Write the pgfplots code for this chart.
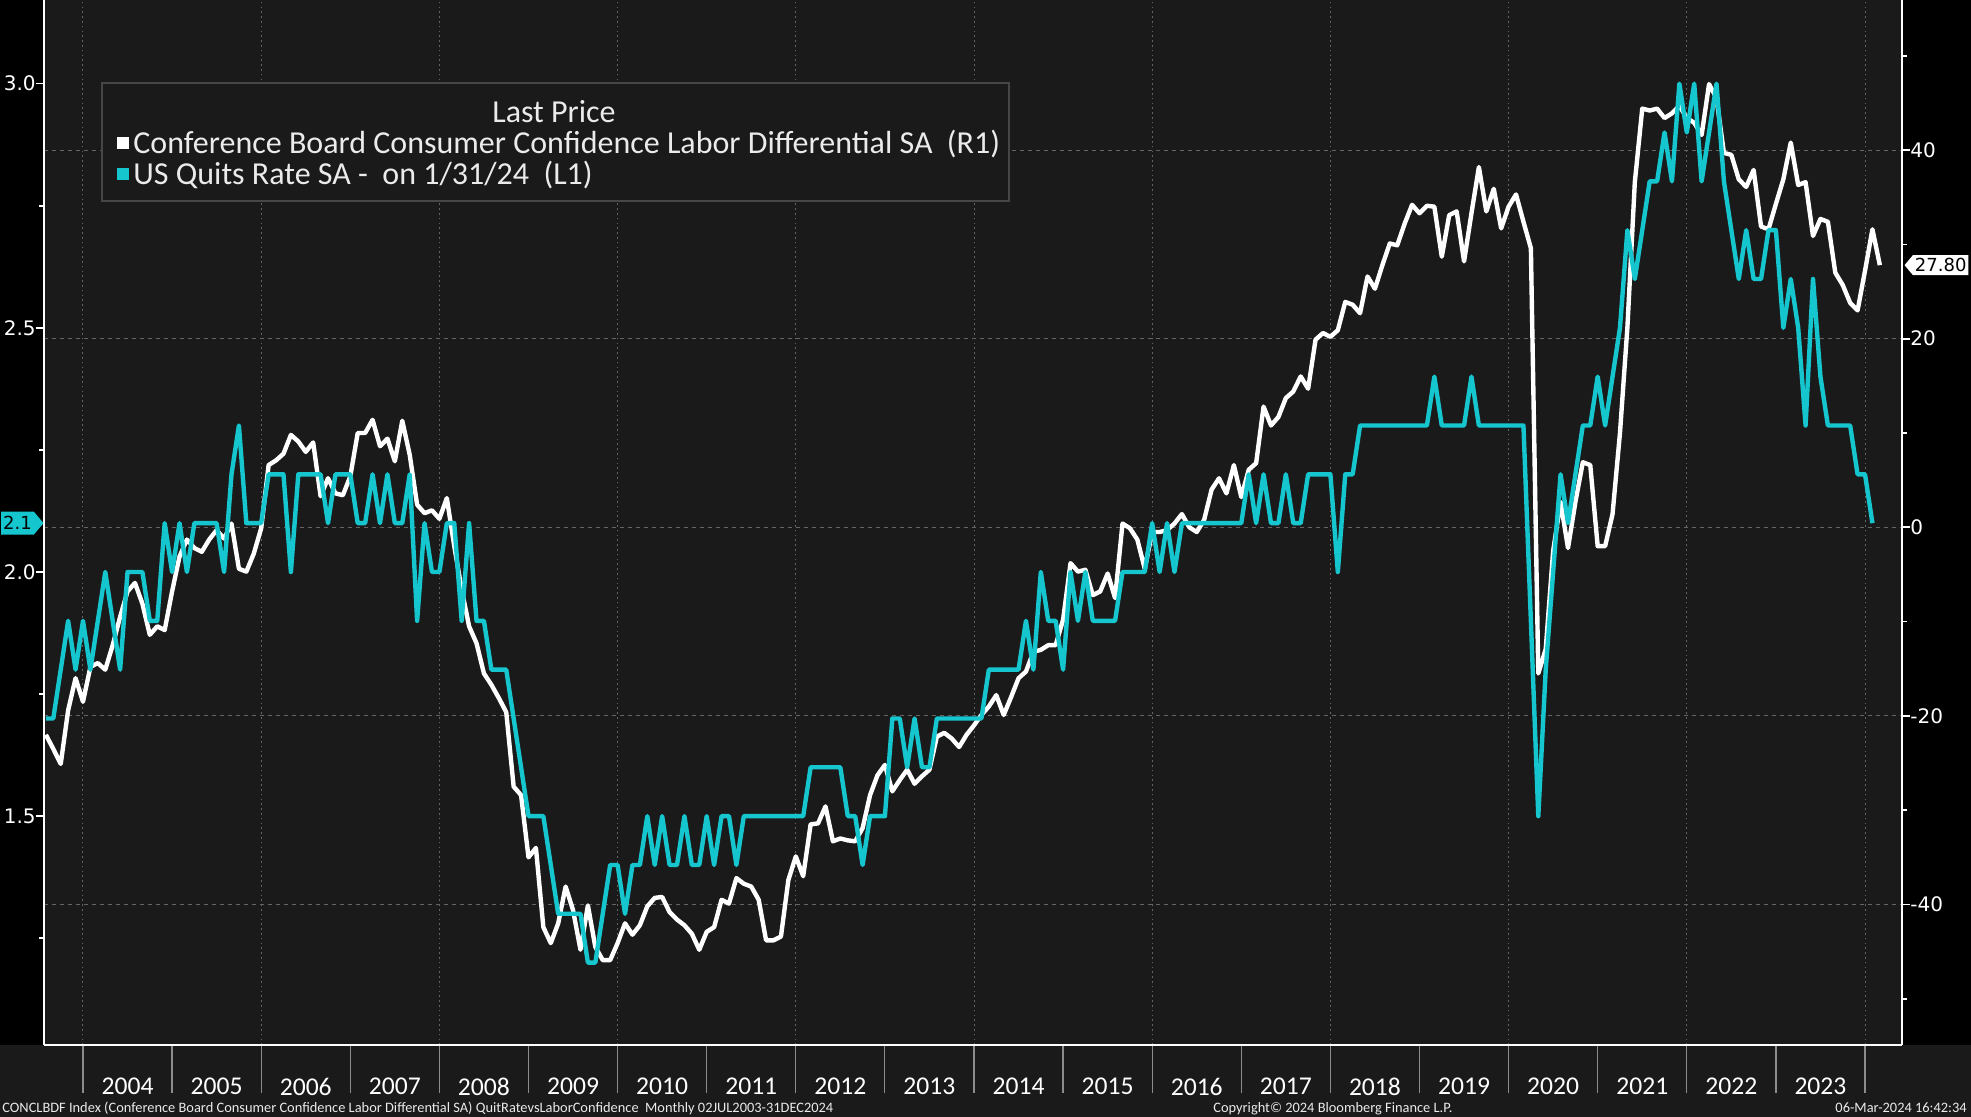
\documentclass[border=0pt]{standalone}
\usepackage{fontspec}
\setmainfont{Carlito}
\newfontfamily\dejavu{DejaVu Sans}
\usepackage{pgfplots}
\usepackage{pgfplotstable}
\pgfplotsset{compat=1.18}
\usetikzlibrary{shapes.symbols}

\definecolor{bggray}{RGB}{26,26,26}
\definecolor{qcyan}{RGB}{22,198,206}
\definecolor{gridgray}{RGB}{100,100,100}
\definecolor{sepgray}{RGB}{140,140,140}
\definecolor{legborder}{RGB}{70,70,70}
\definecolor{txtgray}{RGB}{235,235,235}

% US Quits Rate SA (L1), monthly, Jul 2003 - Jan 2024
\pgfplotstableread[row sep=\\]{v\\
1.7\\1.7\\1.8\\1.9\\1.8\\1.9\\
1.8\\1.9\\2.0\\1.9\\1.8\\2.0\\2.0\\2.0\\1.9\\1.9\\2.1\\2.0\\
2.1\\2.0\\2.1\\2.1\\2.1\\2.1\\2.0\\2.2\\2.3\\2.1\\2.1\\2.1\\
2.2\\2.2\\2.2\\2.0\\2.2\\2.2\\2.2\\2.2\\2.1\\2.2\\2.2\\2.2\\
2.1\\2.1\\2.2\\2.1\\2.2\\2.1\\2.1\\2.2\\1.9\\2.1\\2.0\\2.0\\
2.1\\2.1\\1.9\\2.1\\1.9\\1.9\\1.8\\1.8\\1.8\\1.7\\1.6\\1.5\\
1.5\\1.5\\1.4\\1.3\\1.3\\1.3\\1.3\\1.2\\1.2\\1.3\\1.4\\1.4\\
1.3\\1.4\\1.4\\1.5\\1.4\\1.5\\1.4\\1.4\\1.5\\1.4\\1.4\\1.5\\
1.4\\1.5\\1.5\\1.4\\1.5\\1.5\\1.5\\1.5\\1.5\\1.5\\1.5\\1.5\\
1.5\\1.6\\1.6\\1.6\\1.6\\1.6\\1.5\\1.5\\1.4\\1.5\\1.5\\1.5\\
1.7\\1.7\\1.6\\1.7\\1.6\\1.6\\1.7\\1.7\\1.7\\1.7\\1.7\\1.7\\
1.7\\1.8\\1.8\\1.8\\1.8\\1.8\\1.9\\1.8\\2.0\\1.9\\1.9\\1.8\\
2.0\\1.9\\2.0\\1.9\\1.9\\1.9\\1.9\\2.0\\2.0\\2.0\\2.0\\2.1\\
2.0\\2.1\\2.0\\2.1\\2.1\\2.1\\2.1\\2.1\\2.1\\2.1\\2.1\\2.1\\
2.2\\2.1\\2.2\\2.1\\2.1\\2.2\\2.1\\2.1\\2.2\\2.2\\2.2\\2.2\\
2.0\\2.2\\2.2\\2.3\\2.3\\2.3\\2.3\\2.3\\2.3\\2.3\\2.3\\2.3\\
2.3\\2.4\\2.3\\2.3\\2.3\\2.3\\2.4\\2.3\\2.3\\2.3\\2.3\\2.3\\
2.3\\2.3\\1.9\\1.5\\1.8\\2.0\\2.2\\2.1\\2.2\\2.3\\2.3\\2.4\\
2.3\\2.4\\2.5\\2.7\\2.6\\2.7\\2.8\\2.8\\2.9\\2.8\\3.0\\2.9\\
3.0\\2.8\\2.9\\3.0\\2.8\\2.7\\2.6\\2.7\\2.6\\2.6\\2.7\\2.7\\
2.5\\2.6\\2.5\\2.3\\2.6\\2.4\\2.3\\2.3\\2.3\\2.3\\2.2\\2.2\\
2.1\\
}\quits

% Conference Board Consumer Confidence Labor Differential SA (R1), Jul 2003 - Feb 2024
\pgfplotstableread[row sep=\\]{v\\
-22.0\\-23.5\\-25.1\\-19.4\\-16.0\\-18.5\\
-14.8\\-14.4\\-15.1\\-12.5\\-9.5\\-6.8\\-5.9\\-8.1\\-11.4\\-10.5\\-10.9\\-6.8\\
-3.1\\-1.3\\-2.2\\-2.6\\-1.3\\-0.3\\-1.2\\0.4\\-4.4\\-4.7\\-2.8\\-0.1\\
6.6\\7.1\\7.8\\9.8\\9.1\\8.0\\9.0\\3.3\\5.2\\3.6\\3.4\\5.4\\
10.0\\10.0\\11.4\\8.6\\9.4\\7.0\\11.3\\7.7\\2.4\\1.5\\1.8\\0.9\\
3.1\\-2.0\\-6.6\\-10.5\\-12.3\\-15.5\\-16.7\\-18.1\\-19.6\\-27.5\\-28.4\\-35.0\\
-34.0\\-42.4\\-44.1\\-42.0\\-38.1\\-40.6\\-44.8\\-40.1\\-44.5\\-45.9\\-45.9\\-44.1\\
-42.0\\-43.2\\-42.2\\-40.2\\-39.3\\-39.2\\-40.8\\-41.6\\-42.2\\-43.1\\-44.8\\-42.9\\
-42.4\\-39.5\\-39.9\\-37.2\\-37.8\\-38.1\\-39.5\\-43.8\\-43.8\\-43.4\\-37.4\\-34.9\\
-37.0\\-31.5\\-31.4\\-29.6\\-33.3\\-33.0\\-33.2\\-33.3\\-31.9\\-28.4\\-26.3\\-25.2\\
-28.0\\-26.8\\-25.7\\-27.2\\-26.4\\-25.7\\-22.2\\-21.8\\-22.4\\-23.3\\-22.0\\-21.0\\
-19.9\\-19.0\\-17.8\\-19.9\\-18.0\\-16.0\\-15.3\\-13.2\\-13.0\\-12.5\\-12.5\\-9.8\\
-3.8\\-4.7\\-4.5\\-7.2\\-6.8\\-4.9\\-7.5\\0.4\\-0.1\\-1.3\\-4.4\\-0.5\\
-0.5\\-0.3\\0.4\\1.4\\0.0\\-0.5\\0.8\\4.0\\5.2\\3.6\\6.6\\3.2\\
6.1\\6.8\\12.8\\10.8\\11.7\\13.7\\14.4\\16.0\\14.7\\19.9\\20.6\\20.2\\
20.9\\23.9\\23.6\\22.7\\26.6\\25.3\\27.8\\30.1\\29.9\\32.2\\34.2\\33.3\\
34.1\\34.0\\28.7\\33.1\\33.5\\28.2\\33.3\\38.2\\33.5\\35.9\\31.7\\34.0\\
35.3\\32.4\\29.6\\-15.5\\-12.9\\-2.5\\2.7\\-2.2\\2.7\\6.9\\6.6\\-2.0\\
-2.0\\1.4\\10.0\\21.2\\36.6\\44.4\\44.2\\44.4\\43.4\\43.9\\44.7\\43.4\\
42.9\\41.6\\47.0\\45.5\\39.7\\39.5\\36.9\\36.1\\37.9\\31.9\\31.6\\34.3\\
36.9\\40.8\\36.3\\36.6\\30.9\\32.7\\32.4\\27.0\\25.7\\23.8\\23.0\\27.2\\
31.6\\27.8\\
}\labor

\pgfplotsset{common/.style={
  scale only axis, width=929pt, height=522.5pt,
  xmin=2003.5623, xmax=2024.4153,
  axis line style={white, line width=0.9pt},
  tick align=outside,
  every tick/.style={white, line width=0.8pt},
  major tick length=4pt, minor tick length=2.5pt,
  ticklabel style={font=\dejavu\fontsize{10}{11}\selectfont, text=white},
  /pgf/number format/assume math mode=true,
}}

\begin{document}
\begin{tikzpicture}
\fill[black] (-22pt,-36pt) rectangle (963.5pt,522.5pt);
\fill[bggray] (-22pt,-36pt) rectangle (963.5pt,0pt);
\fill[bggray] (0pt,0pt) rectangle (929pt,522.5pt);

% year separators below the axis
\begin{axis}[common,
  axis x line*=bottom, axis y line=none,
  ymin=0, ymax=1, ytick=\empty,
  xtick={2004,2005,...,2024}, xticklabels={},
  xtick style={sepgray, line width=0.6pt},
  major tick length=24pt,
]
\end{axis}

% right axis: labour differential
\begin{axis}[common,
  axis y line*=right, axis x line*=bottom,
  ymin=-54.9, ymax=55.92,
  ytick={-40,-20,0,20,40}, yticklabels={-40,-20,0,20,40},
  minor ytick={-50,-30,-10,10,30,50},
  ymajorgrids, y grid style={gridgray, line width=0.5pt, dash pattern=on 2pt off 2pt},
  xtick={2004,2006,...,2024}, xticklabels={},
  xmajorgrids, x grid style={gridgray, line width=0.5pt, dash pattern=on 0.8pt off 1.6pt},
  xtick style={draw=none},
  yticklabel style={anchor=west, inner sep=0pt},
]
\addplot[white, line width=2.2pt, line join=round] table[x expr=2003.583333+\coordindex/12, y=v]{\labor};
\coordinate (tagR) at ({rel axis cs:1,0}|-{axis cs:2010,27.8});
\end{axis}

% left axis: quits rate
\begin{axis}[common,
  axis y line*=left, axis x line*=bottom,
  ymin=1.0313, ymax=3.1714,
  ytick={1.5,2.0,2.5,3.0}, yticklabels={1.5,2.0,2.5,3.0},
  minor ytick={1.25,1.75,2.25,2.75},
  yticklabel style={anchor=east, inner sep=0pt},
  xtick={2004.5,2005.5,...,2023.5},
  xticklabels={2004,2005,2006,2007,2008,2009,2010,2011,2012,2013,2014,2015,2016,2017,2018,2019,2020,2021,2022,2023},
  xtick style={draw=none},
  xticklabel style={font=\rmfamily\fontsize{12.8}{13}\selectfont, text=white, inner sep=0pt, anchor=north, yshift=-12.35pt},
]
\addplot[qcyan, line width=2.2pt, line join=round] table[x expr=2003.583333+\coordindex/12, y=v]{\quits};
\coordinate (tagL) at ({rel axis cs:0,0}|-{axis cs:2010,2.1});
\end{axis}

% last-value tags
\node[signal, signal to=east, signal pointer angle=100, fill=qcyan, text=black, anchor=east, inner xsep=1pt, inner ysep=1.5pt, minimum height=11.5pt, font=\dejavu\fontsize{9}{10}\selectfont] at (tagL) {2.1};
\node[signal, signal to=west, signal pointer angle=100, fill=white, text=black, anchor=west, inner xsep=1pt, inner ysep=1pt, minimum height=10pt, font=\dejavu\fontsize{9}{10}\selectfont] at ([xshift=1pt]tagR) {27.80};

% legend
\fill[bggray, draw=legborder, line width=0.6pt] (29pt,422pt) rectangle (482.5pt,481pt);
\node[anchor=base, text=txtgray, font=\fontsize{16}{17}\selectfont, inner sep=0pt] at (255pt,461pt) {Last Price};
\fill[white] (36.5pt,448pt) rectangle (42.5pt,454pt);
\node[anchor=base west, text=txtgray, font=\fontsize{16}{17}\selectfont, inner sep=0pt] at (44.5pt,445.8pt) {Conference Board Consumer Confidence Labor Differential SA\ \ (R1)};
\fill[qcyan] (36.5pt,432.5pt) rectangle (42.5pt,438.5pt);
\node[anchor=base west, text=txtgray, font=\fontsize{16}{17}\selectfont, inner sep=0pt] at (44.5pt,430pt) {US Quits Rate SA -\ \ on 1/31/24\ \ (L1)};

% footer
\node[anchor=base west, text=txtgray, font=\fontsize{7.2}{8}\selectfont, inner sep=0pt] at (-21pt,-34pt) {CONCLBDF Index (Conference Board Consumer Confidence Labor Differential SA) QuitRatevsLaborConfidence\ \ Monthly 02JUL2003-31DEC2024};
\node[anchor=base west, text=txtgray, font=\fontsize{7.2}{8}\selectfont, inner sep=0pt] at (584.5pt,-34pt) {Copyright\textcopyright{} 2024 Bloomberg Finance L.P.};
\node[anchor=base east, text=txtgray, font=\fontsize{7.2}{8}\selectfont, inner sep=0pt] at (961.5pt,-34pt) {06-Mar-2024 16:42:34};

\pgfresetboundingbox
\useasboundingbox (-22pt,-36pt) rectangle (963.5pt,522.5pt);
\end{tikzpicture}
\end{document}
